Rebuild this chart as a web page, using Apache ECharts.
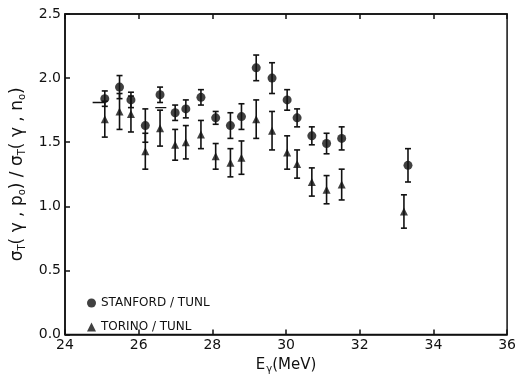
<!DOCTYPE html>
<html>
<head>
<meta charset="utf-8">
<script src="https://cdn.jsdelivr.net/npm/echarts@6/dist/echarts.min.js"></script>
<style>
  html, body { margin: 0; padding: 0; background: #fff; }
  #main { width: 519px; height: 379px; }
</style>
</head>
<body>
<div id="main"></div>
<script>
// 能量 (MeV)
var stanfordE = [25.08, 25.48, 25.79, 26.18, 26.58, 26.99, 27.28, 27.69, 28.09, 28.49, 28.79, 29.19, 29.62, 30.03, 30.30, 30.70, 31.10, 31.51, 33.31];
var stanfordVal = [1.84, 1.93, 1.83, 1.63, 1.87, 1.73, 1.76, 1.85, 1.69, 1.63, 1.70, 2.08, 2.00, 1.83, 1.69, 1.55, 1.49, 1.53, 1.32];
var stanfordErr = [0.06, 0.09, 0.06, 0.13, 0.06, 0.06, 0.07, 0.06, 0.05, 0.10, 0.10, 0.10, 0.12, 0.08, 0.07, 0.07, 0.08, 0.09, 0.13];

var torinoE = [25.08, 25.48, 25.79, 26.18, 26.58, 26.99, 27.28, 27.69, 28.09, 28.49, 28.79, 29.19, 29.62, 30.03, 30.30, 30.70, 31.10, 31.51, 33.20];
var torinoVal = [1.68, 1.74, 1.72, 1.43, 1.61, 1.48, 1.50, 1.56, 1.39, 1.34, 1.38, 1.68, 1.59, 1.42, 1.33, 1.19, 1.13, 1.17, 0.96];
var torinoErr = [0.14, 0.14, 0.14, 0.14, 0.14, 0.12, 0.13, 0.11, 0.10, 0.11, 0.13, 0.15, 0.15, 0.13, 0.11, 0.11, 0.11, 0.12, 0.13];

// 左上角的短横线
var bracketA = [[24.75, 1.81], [25.08, 1.81]];
var bracketB = [[26.45, 1.77], [26.75, 1.77]];

function pairs(xs, ys) {
  return xs.map(function (x, i) { return [x, ys[i]]; });
}
function errData(xs, ys, es) {
  return xs.map(function (x, i) { return [x, ys[i] - es[i], ys[i] + es[i]]; });
}

// 误差棒
function renderErr(params, api) {
  var lo = api.coord([api.value(0), api.value(1)]);
  var hi = api.coord([api.value(0), api.value(2)]);
  var w = 3;
  var st = { stroke: '#111', lineWidth: 1.6 };
  return {
    type: 'group',
    children: [
      { type: 'line', shape: { x1: lo[0], y1: lo[1], x2: hi[0], y2: hi[1] }, style: st },
      { type: 'line', shape: { x1: lo[0] - w, y1: lo[1], x2: lo[0] + w, y2: lo[1] }, style: st },
      { type: 'line', shape: { x1: hi[0] - w, y1: hi[1], x2: hi[0] + w, y2: hi[1] }, style: st }
    ]
  };
}

var font = 'DejaVu Sans';
var chart = echarts.init(document.getElementById('main'));
var option = {
  backgroundColor: '#fff',
  animation: false,
  textStyle: { fontFamily: font, color: '#111' },
  grid: {
    left: 65, right: 8, top: 14, bottom: 35,
    show: true, borderColor: '#111', borderWidth: 1.5
  },
  legend: {
    orient: 'vertical',
    left: 82, top: 292,
    itemWidth: 9, itemHeight: 9, itemGap: 12,
    textStyle: { fontFamily: font, fontSize: 12, color: '#111' },
    data: [
      { name: 'STANFORD / TUNL', icon: 'circle' },
      { name: 'TORINO / TUNL', icon: 'triangle' }
    ]
  },
  xAxis: [{
    type: 'value', min: 24, max: 36, interval: 2,
    name: '{a|E}{s|γ}{a|(MeV)}', nameLocation: 'middle', nameGap: 19,
    nameTextStyle: {
      rich: {
        a: { fontFamily: font, fontSize: 15, color: '#111' },
        s: { fontFamily: font, fontSize: 10, color: '#111', padding: [8, 0, 0, 1] }
      }
    },
    axisLine: { lineStyle: { color: '#111', width: 1.5 } },
    axisTick: { inside: true, length: 5, lineStyle: { color: '#111', width: 1.5 } },
    axisLabel: { fontSize: 14, color: '#111', margin: 4, showMinLabel: true, showMaxLabel: true },
    splitLine: { show: false }
  }, {
    type: 'value', min: 24, max: 36, interval: 2, position: 'top',
    axisLine: { lineStyle: { color: '#111', width: 1.5 } },
    axisTick: { inside: true, length: 5, lineStyle: { color: '#111', width: 1.5 } },
    axisLabel: { show: false },
    splitLine: { show: false }
  }],
  yAxis: {
    type: 'value', min: 0, max: 2.5, interval: 0.5,
    name: '{a|σ}{s|T}{a|( γ , p}{s|o}{a|) / σ}{s|T}{a|( γ , n}{s|o}{a|)}',
    nameLocation: 'middle', nameGap: 30, nameRotate: 90,
    nameTextStyle: {
      rich: {
        a: { fontFamily: font, fontSize: 17, color: '#111' },
        s: { fontFamily: font, fontSize: 10, color: '#111', padding: [10, 0, 0, 0] }
      }
    },
    axisLine: { lineStyle: { color: '#111', width: 1.5 } },
    axisTick: { inside: true, length: 5, lineStyle: { color: '#111', width: 1.5 } },
    axisLabel: {
      fontSize: 14, color: '#111', margin: 4,
      formatter: function (v) { return v.toFixed(1); }
    },
    splitLine: { show: false }
  },
  series: [
    {
      name: 'stanfordErr', type: 'custom', renderItem: renderErr,
      data: errData(stanfordE, stanfordVal, stanfordErr), z: 2
    },
    {
      name: 'torinoErr', type: 'custom', renderItem: renderErr,
      data: errData(torinoE, torinoVal, torinoErr), z: 2
    },
    {
      name: 'STANFORD / TUNL', type: 'scatter', symbol: 'circle', symbolSize: 9,
      itemStyle: { color: '#111' }, data: pairs(stanfordE, stanfordVal), z: 3
    },
    {
      name: 'TORINO / TUNL', type: 'scatter', symbol: 'triangle', symbolSize: 8,
      itemStyle: { color: '#111' }, data: pairs(torinoE, torinoVal), z: 3
    },
    {
      type: 'line', data: bracketA, symbol: 'none',
      lineStyle: { color: '#111', width: 1.4 }
    },
    {
      type: 'line', data: bracketB, symbol: 'none',
      lineStyle: { color: '#111', width: 1.4 }
    }
  ]
};
chart.setOption(option);
</script>
</body>
</html>
